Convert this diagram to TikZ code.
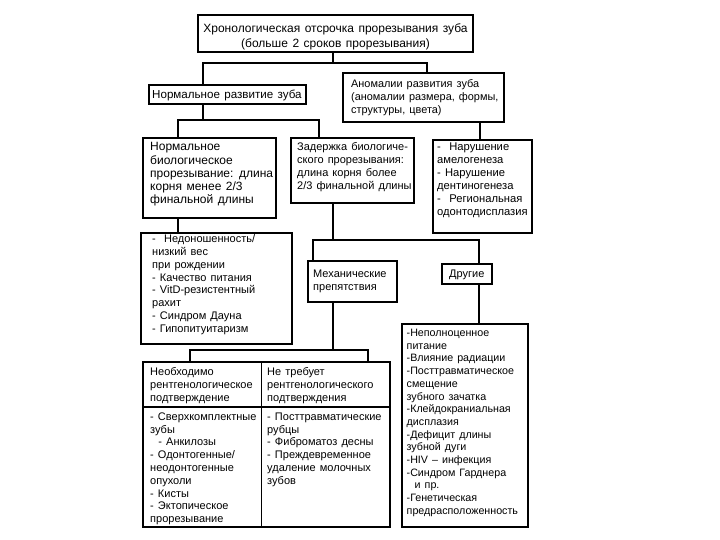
\documentclass[tikz,border=0pt]{standalone}
\usepackage{fontspec}
\setmainfont{Liberation Sans}[WordSpace=1.35]
\tikzset{
  box/.style={draw, line width=1.6pt, inner sep=0pt, outer sep=0pt},
  txt/.style={inner sep=0pt, align=left, anchor=north west, font=\fontsize{11}{12.8}\selectfont},
  big/.style={font=\fontsize{12}{13.2}\selectfont},
  mid/.style={font=\fontsize{11.2}{13}\selectfont},
  link/.style={line width=1.2pt}
}
\newcommand\dbox[6][]{%
  \node[box,#1,minimum width={(#4)-(#2)},minimum height={(#5)-(#3)}] (#6) at ({((#2)+(#4))/2},{((#3)+(#5))/2}) {};}
\begin{document}
\begin{tikzpicture}[x=1pt,y=-1pt]
\useasboundingbox[fill=white] (0,0) rectangle (720,540);
% boxes
\dbox[line width=2.6pt]{198}{15}{473}{52}{top}
\dbox{149}{85}{306}{104}{normal}
\dbox{343}{73}{504}{122}{anom}
\dbox{143}{138}{276}{218}{b1}
\dbox{291}{138}{414}{203}{b2}
\dbox{433}{140}{532}{233}{b3}
\dbox{141}{233}{292}{344}{b4}
\dbox{308}{261}{397}{302}{mech}
\dbox{442}{264}{492}{284}{other}
\dbox[line width=2.2pt]{143}{362}{390}{527}{tbl}
\dbox{402}{324}{528}{527}{big}
% table dividers
\coordinate (cdiv) at (261,407);
\draw[line width=1pt] (cdiv |- tbl.north) -- (cdiv |- tbl.south);
\draw[line width=1.6pt] (cdiv -| tbl.west) -- (cdiv -| tbl.east);
% texts
\node[inner sep=0pt, align=center, anchor=north, font=\fontsize{12}{15}\selectfont] (toptxt) at (335.5,23.5)
  {Хронологическая отсрочка прорезывания зуба\\(больше 2 сроков прорезывания)};
\node[txt, font=\fontsize{11.6}{13}\selectfont] (normaltxt) at ([shift={(3,4.5)}]normal.north west) {Нормальное развитие зуба};
\node[txt, font=\fontsize{10.9}{12.8}\selectfont] (anomtxt) at ([shift={(8,6.5)}]anom.north west) {Аномалии развития зуба\\(аномалии размера, формы,\\структуры, цвета)};
\node[txt,big] (b1txt) at ([shift={(7,4.5)}]b1.north west) {Нормальное\\биологическое\\прорезывание: длина\\корня менее 2/3\\финальной длины};
\node[txt] (b2txt) at ([shift={(6,4.5)}]b2.north west) {Задержка биологиче-\\ского прорезывания:\\длина корня более\\2/3 финальной длины};
\node[txt,mid] (b3txt) at ([shift={(4,2.5)}]b3.north west) {-\ \ Нарушение\\амелогенеза\\- Нарушение\\дентиногенеза\\-\ \ Региональная\\одонтодисплазия};
\node[txt] (b4txt) at ([shift={(11,1.5)}]b4.north west) {-\ \ Недоношенность/\\низкий вес\\при рождении\\- Качество питания\\- VitD-резистентный\\рахит\\- Синдром Дауна\\- Гипопитуитаризм};
\node[txt] (mechtxt) at ([shift={(5,8.5)}]mech.north west) {Механические\\препятствия};
\node[txt] (othertxt) at ([shift={(7,5.5)}]other.north west) {Другие};
\node[txt] (h1txt) at ([shift={(7,5.5)}]tbl.north west) {Необходимо\\рентгенологическое\\подтверждение};
\node[txt] (h2txt) at ([shift={(6,5.5)}]tbl.north west -| cdiv) {Не требует\\рентгенологического\\подтверждения};
\node[txt] (c1txt) at ([shift={(7,5.5)}]cdiv -| tbl.west) {- Сверхкомплектные\\зубы\\\ \ - Анкилозы\\- Одонтогенные/\\неодонтогенные\\опухоли\\- Кисты\\- Эктопическое\\прорезывание};
\node[txt] (c2txt) at ([shift={(6,5.5)}]cdiv) {- Посттравматические\\рубцы\\- Фиброматоз десны\\- Преждевременное\\удаление молочных\\зубов};
\node[txt, font=\fontsize{10.7}{12.7}\selectfont] (bigtxt) at ([shift={(4.5,5)}]big.north west) {-Неполноценное\\питание\\-Влияние радиации\\-Посттравматическое\\смещение\\зубного зачатка\\-Клейдокраниальная\\дисплазия\\-Дефицит длины\\зубной дуги\\-HIV – инфекция\\-Синдром Гарднера\\\ \ и пр.\\-Генетическая\\предрасположенность};
% connectors
\coordinate (j1) at (333,63); \coordinate (j1L) at (203,63); \coordinate (j1R) at (427,63);
\draw[link] (j1 |- top.south) -- (j1);
\draw[link] (j1L |- normal.north) -- (j1L) -- (j1R) -- (j1R |- anom.north);
\coordinate (j2) at (203,120); \coordinate (j2L) at (178,120); \coordinate (j2R) at (319,120);
\draw[link] (j2 |- normal.south) -- (j2);
\draw[link] (j2L |- b1.north) -- (j2L) -- (j2R) -- (j2R |- b2.north);
\coordinate (j3) at (480,0);
\draw[link] (j3 |- anom.south) -- (j3 |- b3.north);
\coordinate (j4) at (178,0);
\draw[link] (j4 |- b1.south) -- (j4 |- b4.north);
\coordinate (j5) at (333,240); \coordinate (j5L) at (313,240); \coordinate (j5R) at (479,240);
\draw[link] (j5 |- b2.south) -- (j5);
\draw[link] (j5L |- mech.north) -- (j5L) -- (j5R) -- (j5R |- other.north);
\draw[link] (j5R |- other.south) -- (j5R |- big.north);
\coordinate (j6) at (333,350); \coordinate (j6L) at (190,350); \coordinate (j6R) at (368,350);
\draw[link] (j6 |- mech.south) -- (j6);
\draw[link] (j6L |- tbl.north) -- (j6L) -- (j6R) -- (j6R |- tbl.north);
\end{tikzpicture}
\end{document}
